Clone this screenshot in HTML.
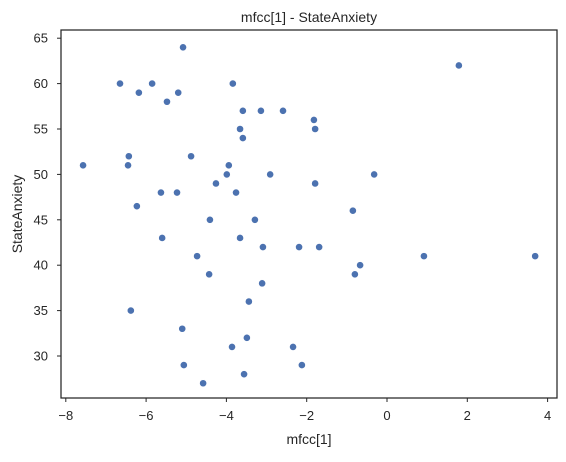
<!DOCTYPE html>
<html><head><meta charset="utf-8"><style>
html,body{margin:0;padding:0;background:#fff;}
svg text{font-family:"Liberation Sans","DejaVu Sans",sans-serif;fill:#262626;}
</style></head><body>
<svg id="chart" width="566" height="457" xmlns="http://www.w3.org/2000/svg">
<rect width="566" height="457" fill="#fff"/>
<text x="309" y="22" font-size="14" text-anchor="middle">mfcc[1] - StateAnxiety</text>
<g id="marks"></g>
<g id="axes"></g>
<rect x="61" y="30" width="496" height="368" fill="none" stroke="#262626" stroke-width="1.25"/>
<text x="309" y="444" font-size="14" text-anchor="middle">mfcc[1]</text>
<text x="22" y="214" font-size="14" text-anchor="middle" transform="rotate(-90 22 214)">StateAnxiety</text>
</svg>
<script>
const xVals=[-5.08,1.79,-6.65,-5.85,-3.84,-6.18,-5.2,-5.48,-3.59,-3.14,-2.59,-1.82,-1.79,-3.66,-3.59,-6.43,-4.88,-7.57,-6.45,-3.94,-3.99,-2.91,-0.32,-4.26,-1.79,-5.63,-5.23,-3.76,-0.85,-6.23,-4.41,-3.29,-5.6,-3.66,-3.09,-2.19,-1.69,-4.73,0.92,3.69,-0.67,-0.8,-4.43,-3.11,-3.44,-6.38,-5.1,-3.49,-3.86,-2.34,-5.06,-2.12,-3.56,-4.58];
const yVals=[64,62,60,60,60,59,59,58,57,57,57,56,55,55,54,52,52,51,51,51,50,50,50,49,49,48,48,48,46,46.5,45,45,43,43,42,42,42,41,41,41,40,39,39,38,36,35,33,32,31,31,29,29,28,27];
const xTicks=[-8,-6,-4,-2,0,2,4];
const yTicks=[30,35,40,45,50,55,60,65];
const X=v=>387+v*40.15;
const Y=v=>356-(v-30)*9.08;
const NS="http://www.w3.org/2000/svg";
const marks=document.getElementById('marks'),axes=document.getElementById('axes');
xVals.forEach((xv,i)=>{
 const c=document.createElementNS(NS,'circle');
 c.setAttribute('cx',X(xv));c.setAttribute('cy',Y(yVals[i]));c.setAttribute('r',3.6);
 c.setAttribute('fill','#4c72b0');c.setAttribute('stroke','#fff');c.setAttribute('stroke-width',0.6);
 
 
 marks.appendChild(c);
});
xTicks.forEach(t=>{
 const l=document.createElementNS(NS,'line');
 l.setAttribute('x1',X(t));l.setAttribute('x2',X(t));l.setAttribute('y1',398);l.setAttribute('y2',402);l.setAttribute('stroke','#262626');
 
 
 axes.appendChild(l);
 const s=document.createElementNS(NS,'text');
 s.setAttribute('x',X(t));s.setAttribute('y',420);s.setAttribute('font-size',13);s.setAttribute('text-anchor','middle');
 s.textContent=t<0?'\u2212'+(-t):t;
 
 
 axes.appendChild(s);
});
yTicks.forEach(t=>{
 const l=document.createElementNS(NS,'line');
 l.setAttribute('x1',57);l.setAttribute('x2',61);l.setAttribute('y1',Y(t));l.setAttribute('y2',Y(t));l.setAttribute('stroke','#262626');
 
 
 axes.appendChild(l);
 const s=document.createElementNS(NS,'text');
 s.setAttribute('x',48);s.setAttribute('y',Y(t)+4.5);s.setAttribute('font-size',13);s.setAttribute('text-anchor','end');
 s.textContent=t;
 
 
 axes.appendChild(s);
});
</script>
</body></html>
